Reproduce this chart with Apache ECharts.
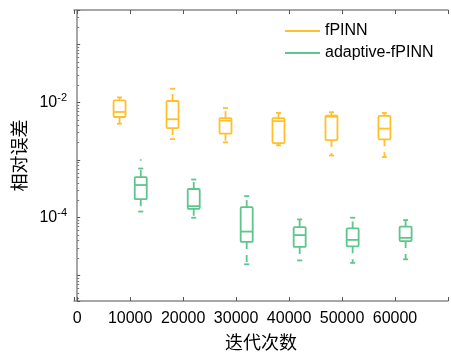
<!DOCTYPE html>
<html>
<head>
<meta charset="utf-8">
<script src="https://cdn.jsdelivr.net/npm/echarts@6/dist/echarts.min.js"></script>
<style>
  html, body { margin: 0; padding: 0; background: #fff; }
  #chart { width: 451px; height: 356px; }
</style>
</head>
<body>
<div id="chart"></div>
<script>
// iteration counts (x positions of the groups)
const iterations = [10000, 20000, 30000, 40000, 50000, 60000];
const boxOffset = 2000;
const xTickLabels = [0, 10000, 20000, 30000, 40000, 50000, 60000];
const yTickExponents = [-2, -4];

// box stats per iteration: [min, Q1, median, Q3, max]
const fpinnStats = [
  [0.00427, 0.00558, 0.00682, 0.01083, 0.01221],
  [0.00231, 0.00358, 0.00511, 0.01057, 0.01726],
  [0.00203, 0.00287, 0.00482, 0.00533, 0.0080],
  [0.00180, 0.00197, 0.00473, 0.00533, 0.00656],
  [0.00120, 0.00222, 0.00566, 0.00589, 0.00676],
  [0.00113, 0.00229, 0.00351, 0.00582, 0.00656]
];
const adaptiveStats = [
  [1.28e-4, 2.10e-4, 3.69e-4, 5.08e-4, 7.13e-4],
  [1.00e-4, 1.43e-4, 1.59e-4, 3.15e-4, 4.60e-4],
  [1.56e-5, 3.81e-5, 5.75e-5, 1.53e-4, 2.37e-4],
  [1.82e-5, 3.12e-5, 5.00e-5, 6.88e-5, 9.35e-5],
  [1.65e-5, 3.19e-5, 4.13e-5, 6.53e-5, 1.00e-4],
  [1.90e-5, 3.94e-5, 4.48e-5, 6.99e-5, 9.10e-5]
];
// outliers: [iteration, value]
const adaptiveOutliers = [[10000, 1.0e-3]];

const ORANGE = '#FFC02A';
const GREEN = '#5DC68C';
const AXIS = '#8a8a8a';
const FONT = 'Liberation Sans, Arial, sans-serif';
const CJK = 'Noto Sans CJK SC, sans-serif';

const chart = echarts.init(document.getElementById('chart'));

function renderBox(params, api) {
  const x = api.value(0);
  const pMin = api.coord([x, api.value(1)]);
  const pQ1 = api.coord([x, api.value(2)]);
  const pMed = api.coord([x, api.value(3)]);
  const pQ3 = api.coord([x, api.value(4)]);
  const pMax = api.coord([x, api.value(5)]);
  const cx = pMed[0];
  const half = 6;
  const cap = 2.5;
  const color = api.visual('color');
  const lineStyle = { stroke: color, lineWidth: 1.8, fill: null };
  const dashStyle = { stroke: color, lineWidth: 1.8, fill: null, lineDash: [7, 6] };
  return {
    type: 'group',
    children: [
      { type: 'rect', shape: { x: cx - half, y: pQ3[1], width: half * 2, height: pQ1[1] - pQ3[1], r: 1 }, style: lineStyle },
      { type: 'line', shape: { x1: cx - half, y1: pMed[1], x2: cx + half, y2: pMed[1] }, style: lineStyle },
      { type: 'line', shape: { x1: cx, y1: pQ3[1], x2: cx, y2: pMax[1] }, style: dashStyle },
      { type: 'line', shape: { x1: cx, y1: pQ1[1], x2: cx, y2: pMin[1] }, style: dashStyle },
      { type: 'line', shape: { x1: cx - cap, y1: pMax[1], x2: cx + cap, y2: pMax[1] }, style: lineStyle },
      { type: 'line', shape: { x1: cx - cap, y1: pMin[1], x2: cx + cap, y2: pMin[1] }, style: lineStyle }
    ]
  };
}

const fpinnData = iterations.map((it, i) => [it - boxOffset].concat(fpinnStats[i]));
const adaptiveData = iterations.map((it, i) => [it + boxOffset].concat(adaptiveStats[i]));
const outlierData = adaptiveOutliers.map(d => [d[0] + boxOffset, d[1]]);

const xAxisBase = {
  type: 'value',
  min: -600,
  max: 70000,
  splitNumber: 7,
  splitLine: { show: false },
  axisLine: { show: true, onZero: false, lineStyle: { color: AXIS, width: 1.5 } },
  axisTick: { show: true, inside: true, length: 4, lineStyle: { color: '#555' } }
};

const option = {
  animation: false,
  grid: { left: 74, right: -13, top: 10, bottom: 54 },
  legend: {
    orient: 'vertical',
    left: 285,
    top: 21,
    padding: 0,
    itemWidth: 35,
    itemHeight: 2,
    itemGap: 2,
    icon: 'rect',
    textStyle: { fontFamily: FONT, fontSize: 16, color: '#000', lineHeight: 20 },
    data: ['fPINN', 'adaptive-fPINN']
  },
  xAxis: [
    Object.assign({}, xAxisBase, {
      position: 'bottom',
      name: '迭代次数',
      nameLocation: 'middle',
      nameGap: 32,
      nameTextStyle: { fontFamily: CJK, fontSize: 18, color: '#000' },
      axisLabel: {
        margin: 10,
        fontFamily: FONT,
        fontSize: 16,
        color: '#000',
        showMinLabel: true,
        formatter: v => (xTickLabels.indexOf(v) >= 0 ? String(v) : '')
      }
    }),
    Object.assign({}, xAxisBase, {
      position: 'top',
      axisLabel: { show: false }
    })
  ],
  yAxis: {
    type: 'log',
    logBase: 10,
    min: 3.6e-6,
    max: 0.4,
    splitLine: { show: false },
    axisLine: { show: true, lineStyle: { color: AXIS, width: 1.5 } },
    axisTick: { show: true, inside: true, length: 3, lineStyle: { color: '#555' } },
    minorTick: { show: true, splitNumber: 9, length: 2, lineStyle: { color: '#777' } },
    name: '相对误差',
    nameLocation: 'middle',
    nameGap: 40,
    nameTextStyle: { fontFamily: CJK, fontSize: 18, color: '#000' },
    axisLabel: {
      margin: 7,
      showMinLabel: false,
      showMaxLabel: false,
      formatter: v => {
        const e = Math.round(Math.log10(v));
        if (Math.abs(Math.log10(v) - e) > 1e-6 || yTickExponents.indexOf(e) < 0) return '';
        return '{b|10}{s|' + e + '}';
      },
      rich: {
        b: { fontFamily: FONT, fontSize: 16, color: '#000' },
        s: { fontFamily: FONT, fontSize: 11, color: '#000', padding: [0, 0, 9, 0] }
      }
    }
  },
  series: [
    {
      name: 'fPINN',
      type: 'custom',
      color: ORANGE,
      itemStyle: { color: ORANGE },
      renderItem: renderBox,
      encode: { x: 0, y: [1, 2, 3, 4, 5] },
      data: fpinnData,
      z: 3
    },
    {
      name: 'adaptive-fPINN',
      type: 'custom',
      color: GREEN,
      itemStyle: { color: GREEN },
      renderItem: renderBox,
      encode: { x: 0, y: [1, 2, 3, 4, 5] },
      data: adaptiveData,
      z: 3
    },
    {
      name: 'adaptive-fPINN',
      type: 'scatter',
      symbolSize: 2,
      itemStyle: { color: GREEN },
      data: outlierData,
      z: 3
    }
  ]
};

chart.setOption(option);
</script>
</body>
</html>
